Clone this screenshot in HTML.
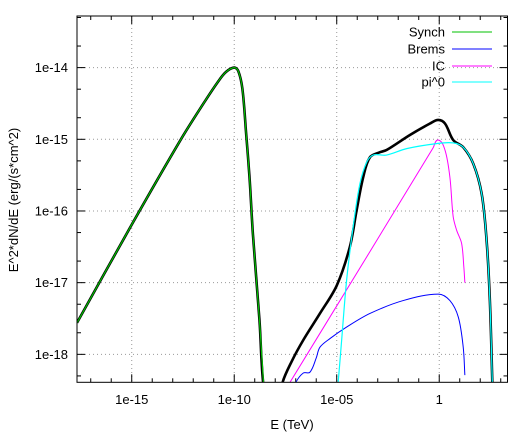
<!DOCTYPE html>
<html><head><meta charset="utf-8"><style>
html,body{margin:0;padding:0;background:#fff;overflow:hidden;width:531px;height:436px;}
svg{display:block;font-family:"Liberation Sans","DejaVu Sans",sans-serif;}
</style></head><body>
<svg id="chart" width="531" height="436" viewBox="0 0 531 436" xmlns="http://www.w3.org/2000/svg">
<defs><clipPath id="clip"><rect x="77" y="16" width="430.5" height="366.3"/></clipPath></defs>
<g id="grid"></g>
<g id="axes"></g>
<g id="series" clip-path="url(#clip)"></g>
<rect x="77" y="16" width="430.5" height="366.3" fill="none" stroke="#000" stroke-width="1"/>
<text x="292" y="429" text-anchor="middle" font-size="13">E (TeV)</text>
<text transform="translate(18,200) rotate(-90)" text-anchor="middle" font-size="13">E^2*dN/dE (erg/(s*cm^2)</text>
<g id="legend"></g>
</svg>
<script>
const xTicks = [-15, -10, -5, 0];
const xTickLabels = ["1e-15", "1e-10", "1e-05", "1"];
const yTicks = [-14, -15, -16, -17, -18];
const yTickLabels = ["1e-14", "1e-15", "1e-16", "1e-17", "1e-18"];
const seriesNames = ["Synch", "Brems", "IC", "pi^0"];
// [log10 E, log10 E^2 dN/dE]
const synchData = [[-17.67,-17.56],[-15,-16.19],[-12.6,-15.0],[-11.5,-14.5],[-10.8,-14.2],[-10.4,-14.06],[-10,-14.0],[-9.8,-14.05],[-9.6,-14.3],[-9.42,-14.92],[-9.25,-15.55],[-9.09,-16.32],[-8.77,-17.52],[-8.55,-18.5]];
const bremsData = [[-7.05,-18.5],[-6.99,-18.39],[-6.63,-18.26],[-6.31,-18.25],[-6.0,-18.05],[-5.82,-17.9],[-5.33,-17.78],[-4.52,-17.62],[-3.38,-17.43],[-1.76,-17.25],[-0.05,-17.16],[0.52,-17.25],[0.93,-17.48],[1.17,-17.9],[1.25,-18.29]];
const icData = [[-7.5,-18.5],[-7.28,-18.39],[-3.6,-16.67],[-0.3,-15.12],[-0.05,-15.01],[0.28,-15.15],[0.52,-15.53],[0.68,-16.08],[0.85,-16.27],[1.09,-16.45],[1.2,-16.78],[1.25,-17.0]];
const pi0Data = [[-4.98,-18.5],[-4.93,-18.39],[-4.76,-17.8],[-4.52,-16.97],[-4.2,-16.22],[-3.87,-15.62],[-3.54,-15.32],[-3.22,-15.22],[-2.57,-15.22],[-1.59,-15.13],[-0.13,-15.06],[0.68,-15.05],[1.17,-15.11],[1.66,-15.34],[2.07,-15.76],[2.31,-16.41],[2.47,-17.25],[2.6,-18.5]];
const totalData = [[-17.67,-17.56],[-15,-16.19],[-12.6,-15.0],[-11.5,-14.5],[-10.8,-14.2],[-10.4,-14.06],[-10,-14.0],[-9.8,-14.05],[-9.6,-14.3],[-9.42,-14.92],[-9.25,-15.55],[-9.09,-16.32],[-8.77,-17.52],[-8.55,-18.5],[-8.2,-18.8],[-7.9,-18.8],[-7.64,-18.39],[-7.2,-18.1],[-6.63,-17.8],[-5.82,-17.43],[-5.0,-17.04],[-4.36,-16.5],[-4.03,-15.99],[-3.71,-15.53],[-3.38,-15.25],[-2.89,-15.18],[-2.57,-15.15],[-1.43,-14.94],[-0.45,-14.78],[-0.05,-14.73],[0.28,-14.78],[0.68,-15.01],[1.17,-15.11],[1.66,-15.34],[2.07,-15.76],[2.31,-16.41],[2.47,-17.25],[2.6,-18.5]];

const X0=77, X1=507.5, Y0=16, Y1=382.3;
const xMin=-17.67, xMax=3.33, yMin=-18.39, yMax=-13.28;
const sx = v => X0 + (v - xMin) / (xMax - xMin) * (X1 - X0);
const sy = v => Y1 - (v - yMin) / (yMax - yMin) * (Y1 - Y0);
const NS="http://www.w3.org/2000/svg";
function mk(tag, attrs, parent){const e=document.createElementNS(NS,tag);for(const k in attrs)e.setAttribute(k,attrs[k]);parent.appendChild(e);return e;}
const grid=document.getElementById('grid'), axes=document.getElementById('axes'), series=document.getElementById('series'), legend=document.getElementById('legend');

xTicks.forEach((t,i)=>{
  const x=sx(t);
  const g=mk('line',{x1:x,x2:x,y1:Y0,y2:Y1,stroke:'#999','stroke-width':1,'stroke-dasharray':'1,3'},grid);
  
  
  const tx=mk('text',{x:x,y:404,'text-anchor':'middle','font-size':13},axes);
  tx.textContent=xTickLabels[i];
  
  
});
for(let d=Math.ceil(xMin); d<=Math.floor(xMax); d++){
  const x=sx(d); const len = xTicks.includes(d)?8:4;
  const a=mk('line',{x1:x,x2:x,y1:Y1,y2:Y1-len,stroke:'#000'},axes);
  
  
  const b=mk('line',{x1:x,x2:x,y1:Y0,y2:Y0+len,stroke:'#000'},axes);
  
  
}
yTicks.forEach((t,i)=>{
  const y=sy(t);
  const g=mk('line',{x1:X0,x2:X1,y1:y,y2:y,stroke:'#999','stroke-width':1,'stroke-dasharray':'1,3'},grid);
  
  
  const tx=mk('text',{x:68,y:y+4.5,'text-anchor':'end','font-size':13},axes);
  tx.textContent=yTickLabels[i];
  
  
});
for(let d=-19; d<=-13; d++){
  [[0,8],[Math.log10(2),4],[Math.log10(5),4]].forEach(([o,len])=>{
    const v=d+o; if(v<yMin||v>yMax) return;
    const y=sy(v);
    const a=mk('line',{x1:X0,x2:X0+len,y1:y,y2:y,stroke:'#000'},axes);
    
    
    const b=mk('line',{x1:X1,x2:X1-len,y1:y,y2:y,stroke:'#000'},axes);
    
    
  });
}
function path(data,color,w,name){
  const P=data.map(p=>[sx(p[0]),sy(p[1])]);
  const dist=(a,b)=>Math.hypot(b[0]-a[0],b[1]-a[1])||1e-6;
  let d='M'+P[0][0].toFixed(2)+','+P[0][1].toFixed(2);
  for(let i=0;i<P.length-1;i++){
    const p0=P[Math.max(0,i-1)], p1=P[i], p2=P[i+1], p3=P[Math.min(P.length-1,i+2)];
    const L=dist(p1,p2)*0.33;
    const t1=[p2[0]-p0[0],p2[1]-p0[1]], n1=Math.hypot(t1[0],t1[1])||1;
    const t2=[p3[0]-p1[0],p3[1]-p1[1]], n2=Math.hypot(t2[0],t2[1])||1;
    const c1=[p1[0]+t1[0]/n1*L, p1[1]+t1[1]/n1*L];
    const c2=[p2[0]-t2[0]/n2*L, p2[1]-t2[1]/n2*L];
    d+=' C'+c1.map(v=>v.toFixed(2)).join(',')+' '+c2.map(v=>v.toFixed(2)).join(',')+' '+p2[0].toFixed(2)+','+p2[1].toFixed(2);
  }
  const e=mk('path',{d:d,fill:'none',stroke:color,'stroke-width':w,'stroke-linejoin':'round'},series);
  
  
}
path(totalData,'#000',2.6,'total-line');
path(synchData,'#00c000',1.2,'synch-line');
path(bremsData,'#0000ff',1,'brems-line');
path(icData,'#ff00ff',1,'ic-line');
path(pi0Data,'#00ffff',1.2,'pi0-line');

const legColors=['#00c000','#0000ff','#ff00ff','#00ffff'];
const legY=[32,49,66,82];
seriesNames.forEach((n,i)=>{
  const t=mk('text',{x:445,y:legY[i]+4.5,'text-anchor':'end','font-size':13},legend);
  t.textContent=n;
  
  
  const l=mk('line',{x1:452,x2:492,y1:legY[i],y2:legY[i],stroke:legColors[i],'stroke-width':1},legend);
  
  
});
</script>
</body></html>
